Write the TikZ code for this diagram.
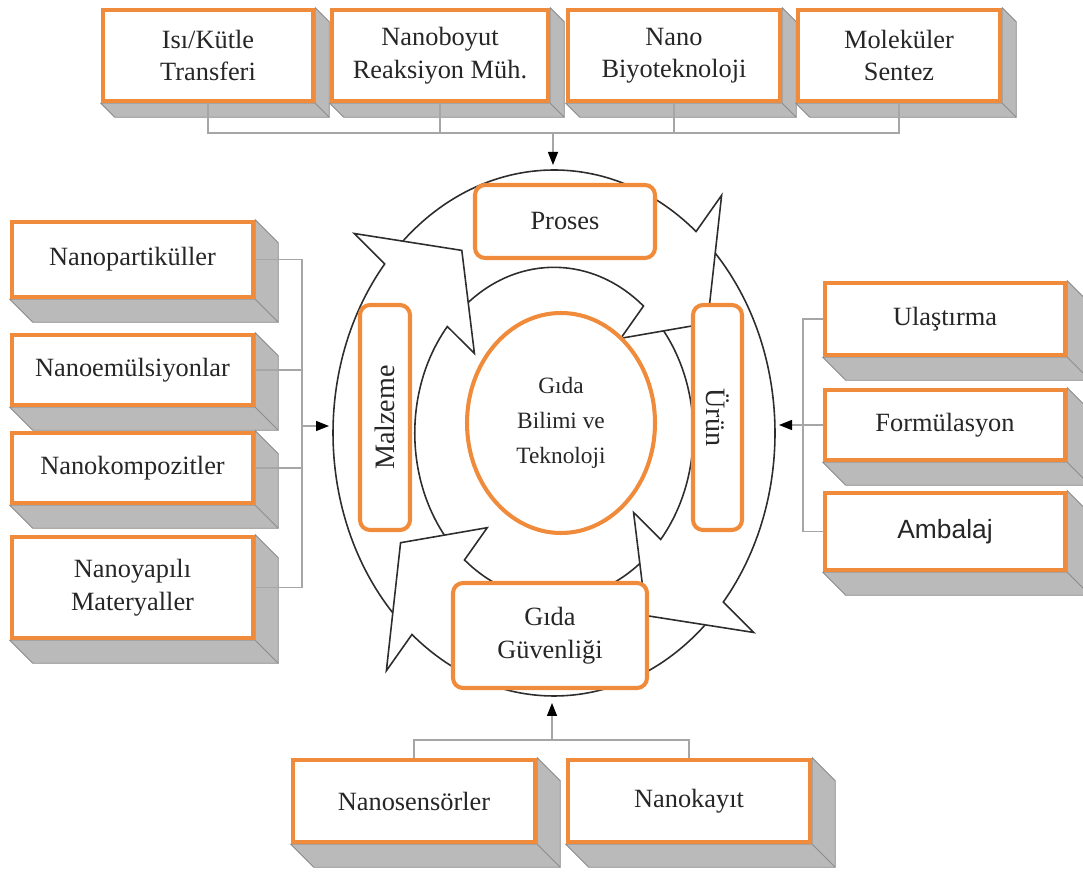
\documentclass[tikz,border=0pt]{standalone}
\usepackage{fontspec}
\setmainfont{Liberation Serif}
\newfontfamily\ambalajfont{Liberation Sans}
\usetikzlibrary{arrows.meta, calc, backgrounds, shapes.geometric}

\definecolor{boxorange}{RGB}{239,139,58}
\definecolor{ringline}{RGB}{45,45,45}

% grey extruded faces below and right of a box: node name, depth
\newcommand{\boxdepth}[2]{%
	\fill[depthface] (#1.north east) -- ++(#2,-#2) -- ($(#1.south east)+(#2,-#2)$)
	-- ($(#1.south west)+(#2,-#2)$) -- (#1.south west) -- (#1.south east) -- cycle;
	\draw[depthface] (#1.south east) -- ++(#2,-#2);
}

\begin{document}
\begin{tikzpicture}[
		% Outer topic boxes (grey depth is added afterwards)
		topicbox/.style 2 args={
				rectangle, draw=boxorange, line width=2.6pt, fill=white,
				minimum width=#1, minimum height=#2, inner sep=2pt,
				font=\fontsize{15}{18.5}\selectfont, text=black!85, align=center
			},
		% Stage boxes sitting on the cycle
		stagebox/.style 2 args={
				rectangle, rounded corners=0.2cm, draw=boxorange, line width=2.3pt, fill=white,
				minimum width=#1, minimum height=#2, inner sep=2pt,
				font=\fontsize{15}{18.8}\selectfont, text=black!85, align=center
			},
		coreoval/.style={
				ellipse, draw=boxorange, line width=2.3pt, fill=white,
				minimum width=3.76cm, minimum height=4.4cm, inner sep=0pt,
				font=\fontsize{13.3}{20}\selectfont, text=black!85, align=center
			},
		depthface/.style={fill=black!27, draw=black!45, line width=0.5pt},
		% Lines
		ring/.style={draw=ringline, line width=0.9pt, line join=miter},
		link/.style={draw=black!35, line width=0.8pt},
		feed/.style={link, -{Triangle[length=0.26cm, width=0.2cm, color=black]}}
	]

	\useasboundingbox (0,0) rectangle (21.66,17.44);

	% ==========================================
	% 1. OUTER TOPIC BOXES
	% ==========================================

	% Top row
	\node[topicbox={4.2cm}{1.82cm}] (isi) at (4.16,16.33) {Isı/Kütle\\Transferi};
	\node[topicbox={4.32cm}{1.82cm}] (nanoboyut) at (8.8,16.33) {Nanoboyut\\Reaksiyon Müh.};
	\node[topicbox={4.24cm}{1.82cm}] (biyotek) at (13.48,16.33) {Nano\\Biyoteknoloji};
	\node[topicbox={4.04cm}{1.82cm}] (molekuler) at (17.98,16.33) {Moleküler\\Sentez};

	% Left column
	\node[topicbox={4.82cm}{1.5cm}] (nanopartikul) at (2.65,12.25) {Nanopartiküller};
	\node[topicbox={4.82cm}{1.4cm}] (nanoemulsiyon) at (2.65,10.04) {Nanoemülsiyonlar};
	\node[topicbox={4.82cm}{1.4cm}] (nanokompozit) at (2.65,8.08) {Nanokompozitler};
	\node[topicbox={4.82cm}{2.02cm}] (nanoyapili) at (2.65,5.69) {Nanoyapılı\\Materyaller};

	% Right column
	\node[topicbox={4.8cm}{1.44cm}] (ulastirma) at (18.9,11.06) {Ulaştırma};
	\node[topicbox={4.8cm}{1.4cm}] (formulasyon) at (18.9,8.94) {Formülasyon};
	\node[topicbox={4.8cm}{1.54cm}, font=\ambalajfont\fontsize{15}{18}\selectfont]
	(ambalaj) at (18.9,6.81) {Ambalaj};

	% Bottom row
	\node[topicbox={4.84cm}{1.64cm}] (nanosensor) at (8.28,1.42) {Nanosensörler};
	\node[topicbox={4.84cm}{1.64cm}] (nanokayit) at (13.78,1.42) {Nanokayıt};

	% Grey depth behind the boxes
	\begin{scope}[on background layer]
		\foreach \n in {isi, nanoboyut, biyotek, molekuler} {\boxdepth{\n}{0.28}}
		\foreach \n in {nanopartikul, nanoemulsiyon, nanokompozit, nanoyapili,
				ulastirma, formulasyon, ambalaj, nanosensor, nanokayit} {\boxdepth{\n}{0.46}}
	\end{scope}


	% ==========================================
	% 2. CYCLE OF FOUR CURVED ARROWS
	% ==========================================
	% Ring centre, outer radii 4.42 x 5.26, inner ring at 0.63 of that.

	\coordinate (ctr) at (11.08,8.78);

	\begin{scope}[shift={(ctr)}, x=4.42cm, y=5.26cm]
		\foreach \head/\tail in {50/140, -40/50, -130/-40, 140/230} {
				\draw[ring] ({cos(\tail-6.85)},{sin(\tail-6.85)})
				arc[start angle=\tail-6.85, end angle=\head, x radius=4.42cm, y radius=5.26cm]
				-- ({1.18*cos(\head)},{1.18*sin(\head)})
				-- ({0.81*cos(\head-19)},{0.81*sin(\head-19)})
				-- ({0.47*cos(\head)},{0.47*sin(\head)})
				-- ({0.63*cos(\head)},{0.63*sin(\head)})
				arc[start angle=\head, end angle=\tail-11.95, x radius=2.785cm, y radius=3.314cm];
			}
	\end{scope}

	% Stages on the ring
	\node[stagebox={3.6cm}{1.46cm}] (proses) at (11.3,13.01) {Proses};
	\node[stagebox={4.5cm}{1.0cm}, rotate=90, font=\fontsize{16}{19}\selectfont]
	(malzeme) at (7.7,9.09) {Malzeme};
	\node[stagebox={4.5cm}{0.98cm}, rotate=-90, font=\fontsize{16}{19}\selectfont]
	(urun) at (14.35,9.09) {Ürün};
	\node[stagebox={3.88cm}{2.1cm}] (guvenlik) at (11.0,4.73) {Gıda\\Güvenliği};

	% Core
	\node[coreoval] (core) at (11.22,8.98) {Gıda\\Bilimi ve\\Teknoloji};


	% ==========================================
	% 3. FEEDING CONNECTORS
	% ==========================================

	\coordinate (topjoin) at (11.06,14.78);
	\coordinate (ringtop) at (11.06,14.14);
	\coordinate (leftjoin) at (6.04,8.92);
	\coordinate (ringleft) at (6.58,8.92);
	\coordinate (rightjoin) at (16.06,8.94);
	\coordinate (ringright) at (15.58,8.94);
	\coordinate (bottomjoin) at (11.04,2.64);
	\coordinate (ringbottom) at (11.04,3.38);

	% From the top row
	\draw[link] (isi.south) |- (topjoin) -| (molekuler.south);
	\draw[link] (nanoboyut.south) -- (nanoboyut.south |- topjoin);
	\draw[link] (biyotek.south) -- (biyotek.south |- topjoin);
	\draw[feed] (topjoin) -- (ringtop);

	% From the left column
	\draw[link] (nanopartikul.east) -| (leftjoin) |- (nanoyapili.east);
	\draw[link] (nanoemulsiyon.east) -- (nanoemulsiyon.east -| leftjoin);
	\draw[link] (nanokompozit.east) -- (nanokompozit.east -| leftjoin);
	\draw[feed] (leftjoin) -- (ringleft);

	% From the right column
	\draw[link] (ulastirma.west) -| (rightjoin) |- (ambalaj.west);
	\draw[feed] (formulasyon.west) -- (ringright);

	% From the bottom row
	\draw[link] (nanosensor.north) |- (bottomjoin) -| (nanokayit.north);
	\draw[feed] (bottomjoin) -- (ringbottom);

\end{tikzpicture}
\end{document}
